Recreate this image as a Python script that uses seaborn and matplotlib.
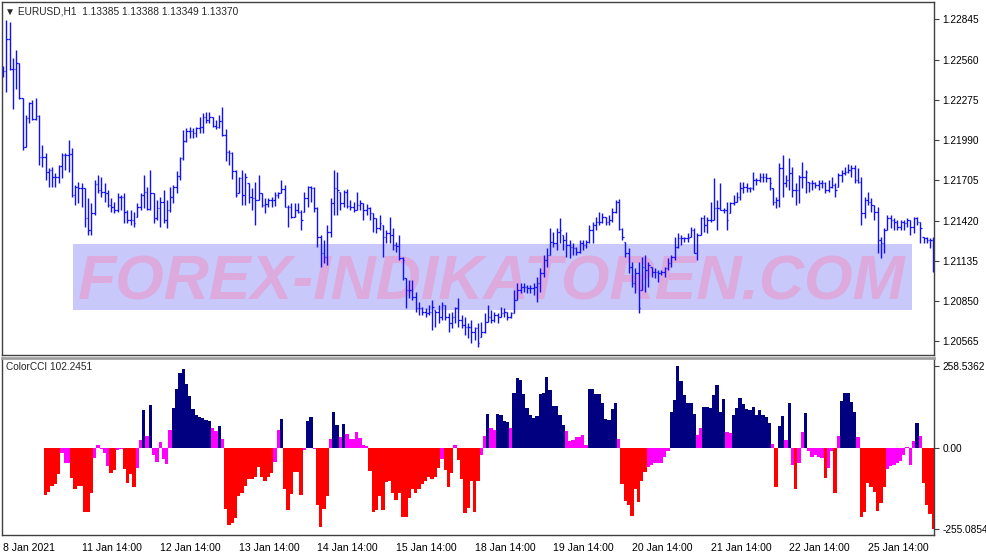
import numpy as np
import pandas as pd
import seaborn as sns
import matplotlib.pyplot as plt
from matplotlib.patches import Rectangle

# EURUSD H1 bars, prices in points (1e-5)
high = [
    122515, 122840, 122826, 122571, 122628, 122536, 122288, 122168, 122260, 122274,
    122288, 122168, 121955, 121899, 121793, 121800, 121757, 121814, 121899, 121899,
    121991, 121934, 121672, 121693, 121686, 121651, 121580, 121545, 121708, 121743,
    121729, 121686, 121637, 121580, 121552, 121616, 121601, 121616, 121495, 121495,
    121481, 121545, 121616, 121743, 121658, 121778, 121616, 121566, 121587, 121637,
    121566, 121658, 121672, 121771, 121870, 122062, 122076, 122083, 122076, 122083,
    122154, 122182, 122189, 122189, 122154, 122132, 122168, 122224, 122069, 121920,
    121906, 121778, 121729, 121778, 121757, 121686, 121651, 121693, 121743, 121616,
    121580, 121580, 121587, 121623, 121623, 121708, 121672, 121531, 121545, 121545,
    121545, 121495, 121623, 121665, 121665, 121658, 121516, 121318, 121283, 121389,
    121580, 121778, 121764, 121623, 121637, 121644, 121566, 121552, 121623, 121566,
    121545, 121538, 121516, 121474, 121439, 121460, 121389, 121354, 121446, 121368,
    121269, 121318, 121162, 121014, 121000, 121000, 120915, 120844, 120808, 120801,
    120823, 120858, 120787, 120823, 120844, 120823, 120766, 120773, 120808, 120872,
    120752, 120738, 120695, 120716, 120667, 120695, 120702, 120766, 120823, 120787,
    120773, 120766, 120808, 120801, 120773, 120773, 120929, 120978, 120978, 120978,
    120964, 120964, 120978, 121021, 121085, 121177, 121226, 121368, 121339, 121368,
    121439, 121318, 121339, 121283, 121262, 121233, 121283, 121283, 121283, 121389,
    121410, 121446, 121481, 121474, 121446, 121460, 121509, 121566, 121573, 121368,
    121269, 121226, 121127, 121085, 121127, 121162, 121177, 121127, 121092, 121085,
    121070, 121070, 121092, 121155, 121177, 121304, 121332, 121318, 121304, 121332,
    121375, 121368, 121332, 121446, 121460, 121446, 121552, 121722, 121566, 121686,
    121509, 121552, 121552, 121601, 121623, 121693, 121693, 121686, 121658, 121764,
    121722, 121757, 121757, 121757, 121729, 121651, 121587, 121828, 121885, 121743,
    121863, 121800, 121686, 121743, 121835, 121778, 121693, 121708, 121693, 121708,
    121708, 121693, 121708, 121729, 121686, 121757, 121778, 121800, 121821, 121814,
    121814, 121793, 121729, 121587, 121623, 121580, 121531, 121516, 121304, 121368,
    121460, 121460, 121439, 121424, 121424, 121424, 121439, 121424, 121446, 121446,
    121410, 121304, 121304, 121297, 121304]
low = [
    122437, 122331, 122486, 122210, 122352, 122281, 121920, 121941, 122111, 122132,
    122132, 121814, 121800, 121708, 121658, 121658, 121658, 121686, 121722, 121778,
    121764, 121587, 121531, 121545, 121516, 121375, 121318, 121318, 121460, 121616,
    121587, 121552, 121516, 121481, 121474, 121481, 121495, 121403, 121403, 121389,
    121375, 121446, 121495, 121509, 121495, 121495, 121403, 121424, 121375, 121403,
    121368, 121481, 121545, 121616, 121708, 121849, 121977, 122005, 122005, 122012,
    122040, 122040, 122111, 122111, 122083, 122069, 122076, 122019, 121842, 121814,
    121715, 121587, 121616, 121531, 121531, 121545, 121495, 121389, 121566, 121516,
    121474, 121516, 121516, 121523, 121580, 121616, 121516, 121375, 121439, 121446,
    121474, 121354, 121481, 121516, 121552, 121481, 121233, 121092, 121120, 121106,
    121304, 121460, 121460, 121495, 121516, 121509, 121495, 121481, 121495, 121495,
    121424, 121460, 121424, 121339, 121332, 121354, 121162, 121262, 121262, 121212,
    121198, 121141, 121000, 120801, 120872, 120858, 120773, 120752, 120752, 120738,
    120752, 120646, 120667, 120695, 120716, 120716, 120631, 120660, 120695, 120667,
    120660, 120610, 120589, 120554, 120575, 120525, 120596, 120624, 120702, 120695,
    120702, 120695, 120738, 120738, 120716, 120731, 120766, 120858, 120908, 120915,
    120908, 120908, 120893, 120844, 120915, 121021, 121092, 121177, 121233, 121212,
    121262, 121212, 121162, 121155, 121177, 121177, 121191, 121212, 121226, 121262,
    121262, 121354, 121389, 121403, 121389, 121389, 121410, 121474, 121354, 121283,
    121162, 121049, 120950, 120908, 120766, 120929, 120915, 120950, 121021, 121014,
    120985, 121035, 121021, 121070, 121092, 121141, 121226, 121247, 121269, 121269,
    121304, 121191, 121141, 121318, 121339, 121332, 121410, 121424, 121354, 121495,
    121474, 121354, 121474, 121531, 121552, 121566, 121616, 121623, 121623, 121637,
    121672, 121693, 121693, 121693, 121637, 121531, 121509, 121516, 121587, 121658,
    121637, 121587, 121531, 121545, 121651, 121616, 121623, 121637, 121651, 121637,
    121651, 121616, 121623, 121651, 121587, 121658, 121693, 121743, 121757, 121729,
    121686, 121686, 121389, 121439, 121531, 121481, 121424, 121191, 121155, 121191,
    121354, 121368, 121354, 121354, 121354, 121354, 121375, 121318, 121332, 121389,
    121262, 121262, 121262, 121226, 121056]
close = [
    122479, 122706, 122493, 122493, 122536, 122288, 121941, 122147, 122253, 122139,
    122161, 121870, 121870, 121764, 121778, 121729, 121729, 121807, 121885, 121885,
    121892, 121601, 121658, 121651, 121651, 121439, 121354, 121474, 121679, 121637,
    121623, 121616, 121531, 121516, 121495, 121587, 121587, 121481, 121424, 121424,
    121403, 121516, 121601, 121623, 121502, 121616, 121439, 121509, 121552, 121424,
    121495, 121587, 121658, 121736, 121863, 121984, 122054, 122054, 122040, 122076,
    122083, 122154, 122132, 122154, 122090, 122083, 122125, 122026, 121906, 121899,
    121771, 121601, 121722, 121601, 121729, 121587, 121580, 121566, 121616, 121531,
    121538, 121566, 121566, 121601, 121616, 121644, 121516, 121516, 121446, 121495,
    121481, 121424, 121580, 121658, 121651, 121509, 121304, 121191, 121162, 121339,
    121545, 121651, 121637, 121545, 121623, 121523, 121516, 121495, 121531, 121545,
    121495, 121509, 121474, 121439, 121368, 121403, 121304, 121332, 121318, 121247,
    121240, 121155, 121141, 120929, 120929, 120879, 120801, 120801, 120773, 120766,
    120773, 120808, 120773, 120738, 120823, 120738, 120695, 120738, 120801, 120716,
    120681, 120667, 120667, 120631, 120660, 120554, 120631, 120702, 120738, 120716,
    120752, 120738, 120766, 120773, 120738, 120766, 120858, 120929, 120950, 120950,
    120943, 120943, 120950, 120978, 121049, 121141, 121177, 121269, 121262, 121339,
    121354, 121283, 121247, 121233, 121226, 121198, 121262, 121247, 121269, 121354,
    121389, 121410, 121410, 121446, 121410, 121424, 121481, 121552, 121361, 121304,
    121191, 121092, 120978, 121049, 120801, 121092, 121070, 121106, 121056, 121056,
    121049, 121056, 121085, 121120, 121162, 121233, 121297, 121297, 121297, 121297,
    121354, 121191, 121318, 121439, 121389, 121424, 121424, 121509, 121509, 121495,
    121495, 121424, 121545, 121552, 121587, 121651, 121658, 121651, 121651, 121708,
    121708, 121729, 121729, 121722, 121686, 121552, 121566, 121793, 121686, 121708,
    121757, 121637, 121637, 121729, 121729, 121764, 121686, 121686, 121672, 121686,
    121686, 121637, 121658, 121672, 121637, 121743, 121757, 121764, 121778, 121793,
    121708, 121693, 121474, 121566, 121552, 121531, 121481, 121283, 121262, 121354,
    121439, 121424, 121410, 121375, 121410, 121403, 121424, 121375, 121439, 121410,
    121368, 121297, 121283, 121283, 121070]
first_open = 122460

# ColorCCI histogram (first 13 bars empty), n = navy, m = magenta, r = red
cci = [np.nan] * 13 + [
    -148, -137, -120, -113, -82, -15, -48, -48, -94, -130,
    -120, -120, -200, -202, -143, -33, 10, -4, -15, -57,
    -80, -69, -6, -4, -67, -111, -82, -122, -63, 25,
    120, 38, 134, -21, -44, 19, -35, -50, 57, 126,
    185, 237, 248, 202, 164, 122, 103, 99, 95, 88,
    86, 62, 55, 69, 27, -193, -242, -235, -222, -150,
    -141, -120, -97, -97, -92, -59, -90, -103, -90, -80,
    -43, 57, 91, -130, -195, -145, -76, -76, -149, -6,
    84, 97, -2, -181, -248, -193, -150,
    27, 113, 71, 36, 76, 44, 27, 27, 50, 31,
    8, 6, -71, -200, -195, -151, -195, -107, -104, -141,
    -164, -141, -218, -216, -158, -130, -141, -128, -113, -105,
    -90, -97, -92, -63, -34, -69, -124, -78, 8, -38,
    -97, -204, -189, -105, -202, -105, -23, 38, 107, 63,
    57, 107, 103, 84, 82, 63, 172, 220, 214, 170,
    126, 103, 95, 101, 170, 174, 223, 183, 132, 132,
    103, 71, 53, 23, 25, 34, 34, 42, 11, 187,
    185, 170, 170, 141, 92, 88, 124, 141, 27, -113,
    -166, -181, -214, -130, -170, -103, -74, -59, -53, -48,
    -46,
    -48, -29, -10, 113, 151, 258.5362, 210, 166, 141, 141,
    107, 42, 63, 128, 128, 126, 166, 197, 113, 155,
    50, 46, 103, 126, 158, 139, 122, 120, 128, 105,
    120, 103, 97, 80, 13, -122, 69, 101, 25, 143,
    -53, -130, -48, 50, 111, -8, -29, -23, -27, -32,
    -95, -63, -8, -143, 38, 149, 172, 172, 145, 113,
    36, -216, -203, -111, -122, -139, -197, -174, -122, -65,
    -57, -55, -48, -40, -21, 4, -53, 23, 78, 38,
    -109, -178, -208, -255.0854]
cci_kind = [None] * 13 + list(
    "rrrrrmmmrr" "rrrrrmmmmm" "rrmmrrrrmm" "nmnmmmmmmn" "nnnnnnnnnn"
    "nmmnmrrrrr" "rrrrrrrrrr" "mmnrrrrrrm" "nnmrrrr"
    "mnnmnmmmmm" "mmrrrrrrrr" "rrrrrrrrrr" "rrrrmrrrmr" "rrrrrrmmnm"
    "mnnnnmnnnn" "nnnnnnnnnn" "nnmmmmmmmn" "nnnnnnnnmr" "rrrrrrrmmm"
    "m"
    "mmmnnnnnnn" "nmmnnnnnnn" "mmnnnnnnnn" "nnnnmrnnmn" "mrmmnmmmmm"
    "rmmrmnnnnn" "mrrrrrrrrm" "mmmmmmmmnm" "rrrr")

price_ticks = [1.22845, 1.22560, 1.22275, 1.21990, 1.21705, 1.21420, 1.21135, 1.20850, 1.20565]
cci_ticks = [258.5362, 0.0, -255.0854]
cci_tick_labels = ['258.5362', '0.00', '-255.0854']
date_pos = [0, 24, 48, 72, 96, 120, 144, 168, 192, 216, 240, 264]
date_labels = ['8 Jan 2021', '11 Jan 14:00', '12 Jan 14:00', '13 Jan 14:00', '14 Jan 14:00',
               '15 Jan 14:00', '18 Jan 14:00', '19 Jan 14:00', '20 Jan 14:00',
               '21 Jan 14:00', '22 Jan 14:00', '25 Jan 14:00']

sns.set_style("white")
plt.rcParams['font.family'] = ['Liberation Sans', 'DejaVu Sans']

W, H = 987, 555
fig = plt.figure(figsize=(W / 100, H / 100), dpi=100)


def box(x0, y0, x1, y1):
    return [x0 / W, 1 - y1 / H, (x1 - x0) / W, (y1 - y0) / H]


ax1 = fig.add_axes(box(2, 2, 934, 355))
ax2 = fig.add_axes(box(2, 358, 934, 535))

# price bars
idx = np.arange(len(close))
hi = np.array(high) / 1e5
lo = np.array(low) / 1e5
cl = np.array(close) / 1e5
op = np.clip(np.r_[first_open / 1e5, cl[:-1]], lo, hi)
bar_col = '#1010ff'
ax1.vlines(idx, lo, hi, color=bar_col, lw=1.0, zorder=2)
ax1.hlines(op, idx - 0.45, idx, color=bar_col, lw=0.9, zorder=2)
ax1.hlines(cl, idx, idx + 0.45, color=bar_col, lw=0.9, zorder=2)

ax1.set_xlim(-0.3, 284.2)
ax1.set_ylim(1.20469, 1.22968)
ax1.set_xticks([])
ax1.yaxis.tick_right()
ax1.set_yticks(price_ticks)
ax1.set_yticklabels([f'{p:.5f}' for p in price_ticks])

# watermark
ax1.add_patch(Rectangle((73 / W, 1 - 310 / H), (912 - 73) / W, 66 / H,
                        transform=fig.transFigure, facecolor='#c8c8fa',
                        edgecolor='none', zorder=0.5))
ax1.text(492 / W, 1 - 300 / H, 'FOREX-INDIKATOREN.COM', transform=fig.transFigure,
         fontsize=45, fontweight='bold', fontstyle='italic', color='#dcaadc',
         ha='center', va='baseline', zorder=0.6)

# CCI histogram
df = pd.DataFrame({'bar': idx, 'cci': cci, 'kind': cci_kind}).dropna()
pal = {'n': '#000080', 'm': '#ff00ff', 'r': '#ff0000'}
sns.barplot(data=df, x='bar', y='cci', hue='kind', palette=pal, native_scale=True,
            width=1.0, dodge=False, saturation=1, linewidth=0, errorbar=None,
            legend=False, ax=ax2)
ax2.set_xlim(-0.3, 284.2)
ax2.set_ylim(-274, 283.5)
ax2.set_xlabel('')
ax2.set_ylabel('')
ax2.yaxis.tick_right()
ax2.set_yticks(cci_ticks)
ax2.set_yticklabels(cci_tick_labels)
ax2.set_xticks(date_pos)
ax2.set_xticklabels(date_labels)
for t in ax2.get_xticklabels():
    t.set_ha('left')

for ax in (ax1, ax2):
    for s in ax.spines.values():
        s.set_color('#404040')
        s.set_linewidth(1.0)
    ax.tick_params(axis='both', direction='out', length=3.5, width=0.8,
                   color='#404040', labelsize=7.6, labelcolor='black', pad=2)
    ax.tick_params(axis='y', labelsize=7.3, pad=2.5)
ax2.spines['top'].set_color('#a0a0a0')
ax2.spines['top'].set_linewidth(2.0)

fig.text(5 / W, 1 - 11 / H, '\u25bc EURUSD,H1  1.13385 1.13388 1.13349 1.13370',
         fontsize=7.3, va='center', ha='left')
fig.text(6 / W, 1 - 367 / H, 'ColorCCI 102.2451', fontsize=7.3, va='center', ha='left')

fig.savefig('out.png', dpi=100, facecolor='white')
